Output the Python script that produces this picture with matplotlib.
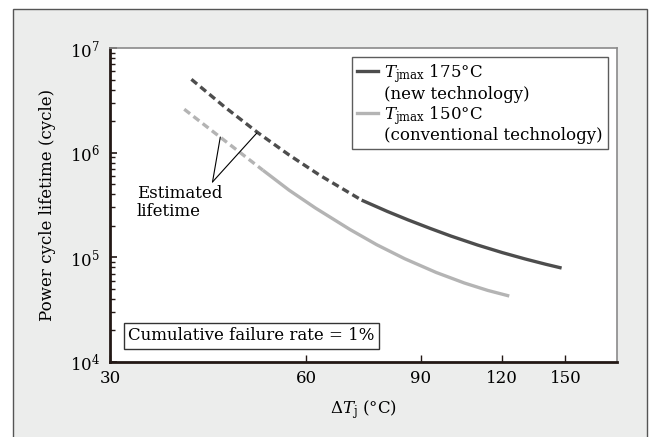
import numpy as np
import matplotlib
matplotlib.use('Agg')
import matplotlib.pyplot as plt
from matplotlib.lines import Line2D
from matplotlib.patches import Rectangle
from matplotlib.ticker import FixedLocator, FixedFormatter, NullLocator, LogFormatterMathtext, LogLocator

plt.rcParams['font.family'] = ['DejaVu Serif']
plt.rcParams['mathtext.fontset'] = 'dejavuserif'
plt.rcParams['font.size'] = 12

# Tjmax 175C (new technology): estimated part + measured part
t175_est_dt = [40, 45, 50.6, 56.5, 63, 73]
t175_est_life = [5.02e6, 2.73e6, 1.55e6, 9.5e5, 6.07e5, 3.52e5]
t175_dt = [73, 80, 86, 93, 100, 110, 120, 130, 140, 148]
t175_life = [3.52e5, 2.74e5, 2.28e5, 1.89e5, 1.60e5, 1.31e5, 1.11e5, 9.66e4, 8.58e4, 7.9e4]

# Tjmax 150C (conventional technology)
t150_est_dt = [39, 44.2, 51.5]
t150_est_life = [2.6e6, 1.42e6, 6.8e5]
t150_dt = [51.5, 56.5, 62, 70, 77, 85, 95, 105, 114, 123]
t150_life = [6.8e5, 4.38e5, 2.96e5, 1.85e5, 1.32e5, 9.7e4, 7.17e4, 5.68e4, 4.83e4, 4.27e4]

x_ticks = [30, 60, 90, 120, 150]
x_tick_labels = ['30', '60', '90', '120', '150']

dark = '#4d4d4d'
light = '#b4b4b4'
axis_col = '#231815'

fig = plt.figure(figsize=(6.51, 4.37), dpi=100)
fig.patches.append(Rectangle((13 / 651, -0.02), 634 / 651, 1.0 - 9 / 437 + 0.02,
                             transform=fig.transFigure, facecolor='#ecedec',
                             edgecolor='#555555', lw=1.0, zorder=-5))

ax = fig.add_axes([110 / 651, 75 / 437, 507 / 651, 314 / 437])
ax.set_facecolor('white')

dash = (0, (2.2, 1.3))
ax.plot(t175_est_dt, t175_est_life, color=dark, lw=2.4, linestyle=dash, dash_capstyle='butt')
ax.plot(t175_dt, t175_life, color=dark, lw=2.4, solid_capstyle='butt')
ax.plot(t150_est_dt, t150_est_life, color=light, lw=2.4, linestyle=dash, dash_capstyle='butt')
ax.plot(t150_dt, t150_life, color=light, lw=2.4, solid_capstyle='butt')

ax.set_xscale('log')
ax.set_yscale('log')
ax.set_xlim(30, 180)
ax.set_ylim(1e4, 1e7)

ax.xaxis.set_major_locator(FixedLocator(x_ticks))
ax.xaxis.set_major_formatter(FixedFormatter(x_tick_labels))
ax.xaxis.set_minor_locator(NullLocator())
ax.yaxis.set_major_locator(LogLocator(base=10))
ax.yaxis.set_minor_locator(LogLocator(base=10, subs=np.arange(2, 10)))
ax.yaxis.set_major_formatter(LogFormatterMathtext())

ax.tick_params(axis='x', which='major', direction='in', length=5, width=1, color=axis_col, pad=6, labelsize=12)
ax.tick_params(axis='y', which='major', direction='in', length=5, width=1.2, color=axis_col, pad=7, labelsize=12)
ax.tick_params(axis='y', which='minor', direction='in', length=3.5, width=1.0, color=axis_col)

for s in ['left', 'bottom']:
    ax.spines[s].set_linewidth(2.0)
    ax.spines[s].set_color(axis_col)
for s in ['top', 'right']:
    ax.spines[s].set_linewidth(1.2)
    ax.spines[s].set_color('#8a8a8a')

ax.set_xlabel(r'$\mathit{Δ}\mathit{T}_{\mathrm{j}}$ (°C)', fontsize=12, labelpad=8)
ax.set_ylabel('Power cycle lifetime (cycle)', fontsize=12, labelpad=10)

# legend: first line carries the line sample, second line has none
blank = Line2D([], [], color='none')
handles = [Line2D([], [], color=dark, lw=2.4), blank,
           Line2D([], [], color=light, lw=2.4), blank]
labels = [r'$T_{\mathrm{jmax}}$ 175°C', '(new technology)',
          r'$T_{\mathrm{jmax}}$ 150°C', '(conventional technology)']
leg = ax.legend(handles, labels, loc='upper right', bbox_to_anchor=(0.982, 0.971),
                borderaxespad=0, frameon=True, fancybox=False, fontsize=12,
                handlelength=1.3, handletextpad=0.35, labelspacing=0.05,
                borderpad=0.3)
leg.get_frame().set_edgecolor('#333333')
leg.get_frame().set_linewidth(1.0)

ax.text(0.0355, 0.083, 'Cumulative failure rate = 1%', transform=ax.transAxes,
        fontsize=12, va='center', ha='left',
        bbox=dict(boxstyle='square,pad=0.25', facecolor='white', edgecolor='#333333', lw=1.0))

# "Estimated lifetime" callout
apex = (43.1, 5.25e5)
ax.annotate('', xy=(44.3, 1.41e6), xytext=apex,
            arrowprops=dict(arrowstyle='-', color='black', lw=0.8, shrinkA=0, shrinkB=0))
ax.annotate('', xy=(50.4, 1.54e6), xytext=apex,
            arrowprops=dict(arrowstyle='-', color='black', lw=0.8, shrinkA=0, shrinkB=0))
ax.text(33.0, 4.9e5, 'Estimated\nlifetime', fontsize=12, ha='left', va='top', linespacing=1.1)

fig.savefig('out.png', dpi=100)
